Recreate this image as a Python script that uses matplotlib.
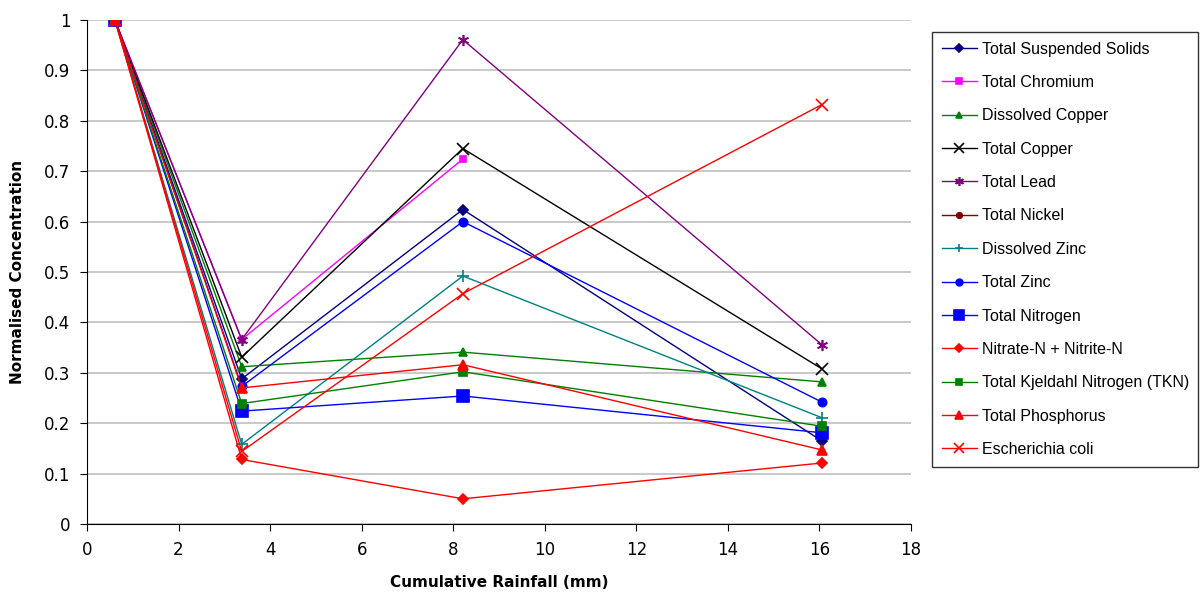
import numpy as np
import matplotlib.pyplot as plt

rain = [0.61, 3.38, 8.21, 16.05]

tss = [1.0, 0.288, 0.624, 0.165]
chromium = [1.0, 0.366, 0.724, np.nan]
diss_copper = [1.0, 0.312, 0.341, 0.282]
tot_copper = [1.0, 0.331, 0.745, 0.308]
lead = [1.0, 0.366, 0.961, 0.356]
nickel = [1.0, np.nan, np.nan, np.nan]
diss_zinc = [1.0, 0.158, 0.492, 0.211]
tot_zinc = [1.0, 0.273, 0.600, 0.242]
tn = [1.0, 0.224, 0.254, 0.181]
nitrate = [1.0, 0.128, 0.050, 0.121]
tkn = [1.0, 0.239, 0.302, 0.194]
tp = [1.0, 0.270, 0.316, 0.147]
ecoli = [1.0, 0.144, 0.457, 0.832]

series = [
    ("Total Suspended Solids", tss, "#000080", "D", 5),
    ("Total Chromium", chromium, "#FF00FF", "s", 5),
    ("Dissolved Copper", diss_copper, "#008000", "^", 6),
    ("Total Copper", tot_copper, "black", "x", 9),
    ("Total Lead", lead, "#800080", (6, 2, 0), 8),
    ("Total Nickel", nickel, "#800000", "o", 5),
    ("Dissolved Zinc", diss_zinc, "#008080", "+", 8),
    ("Total Zinc", tot_zinc, "#0000FF", "o", 6),
    ("Total Nitrogen", tn, "#0000FF", "s", 9),
    ("Nitrate-N + Nitrite-N", nitrate, "#FF0000", "D", 5),
    ("Total Kjeldahl Nitrogen (TKN)", tkn, "#008000", "s", 6),
    ("Total Phosphorus", tp, "#FF0000", "^", 7),
    ("Escherichia coli", ecoli, "#FF0000", "x", 9),
]

fig = plt.figure(figsize=(12.02, 5.92), dpi=100)
ax = fig.add_axes([87/1202, 68/592, 824/1202, 504/592])

for name, vals, col, mk, ms in series:
    ax.plot(rain, vals, color=col, marker=mk, markersize=ms, lw=1,
            markeredgewidth=1.2, label=name)

ax.set_xlim(0, 18)
ax.set_ylim(0, 1)
ax.set_xticks(range(0, 19, 2))
ax.set_yticks(np.arange(0, 1.01, 0.1))
ax.set_yticklabels(["0", "0.1", "0.2", "0.3", "0.4", "0.5", "0.6", "0.7", "0.8", "0.9", "1"])
ax.yaxis.grid(True, color="#c0c0c0", lw=1.2)
ax.set_axisbelow(True)
for s in ["top", "right"]:
    ax.spines[s].set_visible(False)
ax.tick_params(labelsize=12, direction="out", length=5, pad=7)
ax.set_xlabel("Cumulative Rainfall (mm)", fontsize=11, fontweight="bold", labelpad=12)
ax.set_ylabel("Normalised Concentration", fontsize=11, fontweight="bold", labelpad=14)

leg = fig.legend(loc="upper left", bbox_to_anchor=(932/1202, 1 - 32/592),
                 prop={"family": "Liberation Sans", "size": 11.5},
                 frameon=True, fancybox=False, edgecolor="black",
                 handlelength=2.2, handletextpad=0.3, labelspacing=1.15,
                 borderpad=0.6, borderaxespad=0, markerscale=0.8)
leg.get_frame().set_linewidth(1)

fig.savefig("out.png", dpi=100)
